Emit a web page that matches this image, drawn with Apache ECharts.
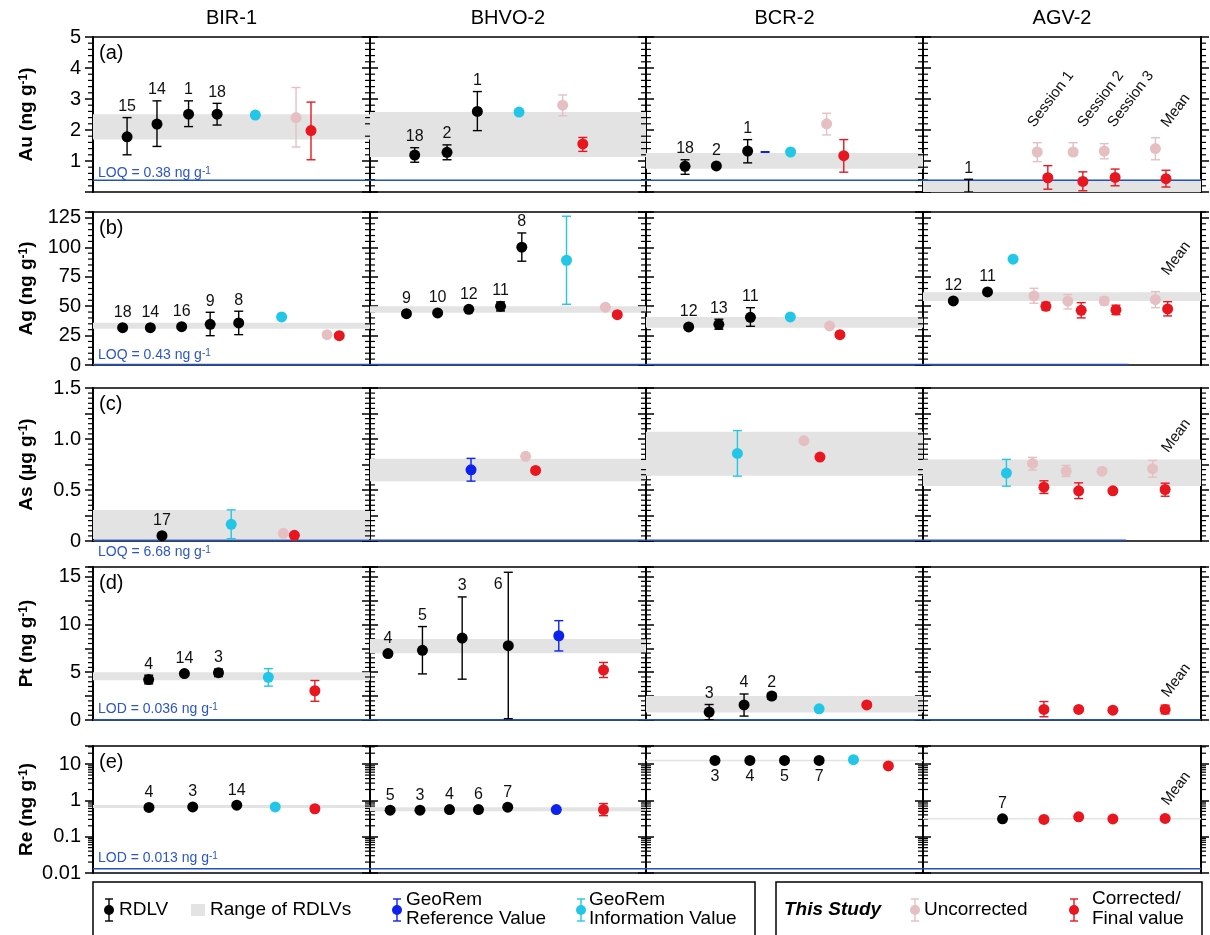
<!DOCTYPE html>
<html><head><meta charset="utf-8">
<script src="https://cdn.jsdelivr.net/npm/echarts@6.0.0/dist/echarts.min.js"></script>
<style>html,body{margin:0;padding:0;background:#fff}#c{width:1210px;height:935px}</style>
</head><body><div id="c"></div><script>
const columns = ['BIR-1', 'BHVO-2', 'BCR-2', 'AGV-2'];
const sessionNames = ['Session 1', 'Session 2', 'Session 3', 'Mean'];

// tick labels per row
const auTicks = [1, 2, 3, 4, 5];
const agTicks = [0, 25, 50, 75, 100, 125];
const asTicks = ['0', '0.5', '1.0', '1.5'];
const ptTicks = [0, 5, 10, 15];
const reTicks = [0.01, 0.1, 1, 10];

// RDLV: [column, x, value, low, high, n]; others: [column, x, value, low, high]; range: [column, low, high]
const auRDLV = [
  [0,12.3,1.78,1.20,2.40,'15'],[0,23.1,2.19,1.47,2.94,'14'],[0,34.5,2.51,2.11,2.94,'1'],[0,44.8,2.51,2.16,2.86,'18'],
  [1,16.2,1.19,0.96,1.43,'18'],[1,27.9,1.28,1.04,1.52,'2'],[1,38.9,2.60,1.98,3.24,'1'],
  [2,14.1,0.83,0.57,1.04,'18'],[2,25.4,0.84,null,null,'2'],[2,36.7,1.32,0.94,1.69,'1'],
  [3,16.4,null,0,0.41,'1']
];
const auRange = [[0,1.69,2.51],[1,1.13,2.58],[2,0.75,1.26],[3,0,0.40]];
const auGeoRef = [[2,43.0,1.29,null,null]];
const auGeoInfo = [[0,58.6,2.48,null,null],[1,54.0,2.58,null,null],[2,52.2,1.29,null,null]];
const auUncorrected = [[0,73.3,2.40,1.45,3.37],[1,69.8,2.80,2.46,3.13],[2,65.2,2.20,1.84,2.54],
  [3,41.1,1.29,0.98,1.59],[3,54.0,1.29,1.18,1.59],[3,65.2,1.32,1.07,1.56],[3,83.6,1.40,1.04,1.75]];
const auCorrected = [[0,78.7,1.98,1.04,2.90],[1,77.1,1.55,1.31,1.76],[2,71.4,1.17,0.64,1.69],
  [3,44.9,0.46,0.09,0.85],[3,57.5,0.34,0.04,0.65],[3,69.1,0.47,0.20,0.74],[3,87.4,0.43,0.16,0.70]];
const auLimit = 0.38;

const agRDLV = [
  [0,10.7,31.7,null,null,'18'],[0,20.7,31.7,null,null,'14'],[0,32.0,32.6,null,null,'16'],[0,42.3,34.6,24.9,44.8,'9'],[0,52.6,35.7,25.8,45.7,'8'],
  [1,13.2,43.6,null,null,'9'],[1,24.5,44.2,null,null,'10'],[1,35.8,47.3,null,null,'12'],[1,47.3,49.9,45.9,53.6,'11'],[1,55.0,100.1,88.2,112.2,'8'],
  [2,15.4,32.3,null,null,'12'],[2,26.3,34.6,30.4,38.9,'13'],[2,37.7,40.5,32.9,48.7,'11'],
  [3,10.9,54.4,null,null,'12'],[3,23.2,62.1,null,null,'11']
];
const agRange = [[0,30.9,36.0],[1,44.5,49.9],[2,31.7,40.8],[3,54.4,61.8]];
const agGeoRef = [];
const agGeoInfo = [[0,68.1,40.8,null,null],[1,71.2,89.0,51.6,126.4],[2,52.1,40.8,null,null],[3,32.4,89.9,null,null]];
const agUncorrected = [[0,84.5,25.8,24.6,27.0],[1,85.3,49.1,null,null],[2,66.3,33.2,null,null],
  [3,39.9,58.7,52.5,65.2],[3,52.1,54.2,47.6,59.8],[3,65.2,54.4,51.0,57.6],[3,83.6,55.5,48.7,62.3]];
const agCorrected = [[0,88.9,24.9,23.2,26.6],[1,89.6,42.8,41.2,44.4],[2,70.0,25.8,24.2,27.4],
  [3,44.2,49.9,46.8,53.3],[3,56.9,46.5,40.0,53.0],[3,69.4,46.8,42.8,50.8],[3,88.0,47.6,41.7,53.8]];
const agLimit = 0.43;

const asRDLV = [[0,24.9,0.052,null,null,'17']];
const asRange = [[0,0.02,0.305],[1,0.587,0.807],[2,0.639,1.072],[3,0.538,0.80]];
const asGeoRef = [[1,36.6,0.698,0.587,0.810]];
const asGeoInfo = [[0,49.9,0.164,0.023,0.305],[2,33.0,0.859,0.636,1.082],[3,30.0,0.666,0.538,0.80]];
const asUncorrected = [[0,68.7,0.075,null,null],[1,56.4,0.830,0.812,0.848],[2,57.0,0.984,null,null],
  [3,39.4,0.761,0.695,0.820],[3,51.5,0.685,0.633,0.741],[3,64.4,0.685,0.672,0.698],[3,82.6,0.708,0.626,0.790]];
const asCorrected = [[0,72.7,0.056,null,null],[1,60.0,0.692,0.672,0.712],[2,62.8,0.823,0.812,0.834],
  [3,43.5,0.528,0.466,0.590],[3,56.0,0.492,0.416,0.570],[3,68.3,0.492,0.480,0.504],[3,87.1,0.505,0.439,0.567]];
const asLimit = 0.00668;

const ptRDLV = [
  [0,20.1,4.23,3.78,4.68,'4'],[0,33.0,4.85,null,null,'14'],[0,45.3,4.95,4.54,5.33,'3'],
  [1,6.5,6.95,null,null,'4'],[1,19.0,7.29,4.82,9.77,'5'],[1,33.4,8.57,4.27,12.87,'3'],[1,50.1,7.77,0.14,15.45,'6'],
  [2,22.8,0.83,0.03,1.62,'3'],[2,35.4,1.58,0.41,2.72,'4'],[2,45.4,2.51,2.17,2.79,'2']
];
const ptRange = [[0,4.16,4.99],[1,6.98,8.46],[2,0.79,2.51]];
const ptGeoRef = [[1,68.4,8.81,7.22,10.39]];
const ptGeoInfo = [[0,63.3,4.47,3.54,5.37],[2,62.5,1.17,null,null]];
const ptUncorrected = [];
const ptCorrected = [[0,80.1,3.06,1.96,4.13],[1,84.6,5.23,4.44,6.02],[2,79.7,1.58,1.38,1.78],
  [3,43.5,1.10,0.34,1.93],[3,56.0,1.10,0.92,1.28],[3,68.3,1.03,0.90,1.16],[3,87.1,1.10,0.65,1.55]];
const ptLimit = 0.036;

const reRDLV = [
  [0,20.2,0.64,null,null,'4'],[0,36.0,0.66,null,null,'3'],[0,51.9,0.74,null,null,'14'],
  [1,7.3,0.54,null,null,'5'],[1,18.1,0.54,null,null,'3'],[1,28.8,0.56,null,null,'4'],[1,39.3,0.56,null,null,'6'],[1,49.9,0.65,null,null,'7'],
  [2,24.9,12.7,null,null,'3'],[2,37.5,12.7,null,null,'4'],[2,50.0,12.7,null,null,'5'],[2,62.5,12.7,null,null,'7'],
  [3,28.6,0.312,null,null,'7']
];
const reRange = [[0,0.62,0.75],[1,0.50,0.65],[2,12.5,12.9],[3,0.307,0.317]];
const reGeoRef = [[1,67.5,0.56,null,null]];
const reGeoInfo = [[0,65.8,0.66,null,null],[2,74.9,13.3,null,null]];
const reUncorrected = [];
const reCorrected = [[0,80.1,0.59,0.52,0.68],[1,84.6,0.56,0.38,0.82],[2,87.5,8.9,null,null],
  [3,43.5,0.30,null,null],[3,56.0,0.354,0.33,0.38],[3,68.3,0.31,0.29,0.33],[3,87.1,0.32,0.29,0.35]];
const reLimit = 0.013;

// ---------- layout & style ----------
const FONT = '"Liberation Sans", Arial, Helvetica, sans-serif';
const C = {rdlv:'#000000', band:'#e3e3e3', ref:'#0d22ee', info:'#22c7e8', unc:'#e6bfc3', cor:'#e8161f', limit:'#2350c2', limitText:'#2c55cc'};
const colLeft = [93, 370, 646, 923];
const colWidth = [277, 276, 277, 278];
const rowTop = [37, 212, 388, 567, 746];
const rowHeight = [155, 153, 153, 153, 127];

const rows = [
  {key:'Au', label:'Au (ng g', letter:'(a)', rdlv:auRDLV, range:auRange, ref:auGeoRef, info:auGeoInfo, unc:auUncorrected, cor:auCorrected,
   limit:auLimit, limitLabel:'LOQ = 0.38 ng g', limitLabelY:173, ticks:auTicks, axis:{type:'value', min:0, max:5, interval:1}, minorStep:0.2, limitEnd:[100,100,100,100]},
  {key:'Ag', label:'Ag (ng g', letter:'(b)', rdlv:agRDLV, range:agRange, ref:agGeoRef, info:agGeoInfo, unc:agUncorrected, cor:agCorrected,
   limit:agLimit, limitLabel:'LOQ = 0.43 ng g', limitLabelY:355, ticks:agTicks, axis:{type:'value', min:0, max:130, interval:25}, minorStep:5, limitEnd:[100,100,100,74]},
  {key:'As', label:'As (\u00b5g g', letter:'(c)', rdlv:asRDLV, range:asRange, ref:asGeoRef, info:asGeoInfo, unc:asUncorrected, cor:asCorrected,
   limit:asLimit, limitLabel:'LOQ = 6.68 ng g', limitLabelY:552, ticks:asTicks, axis:{type:'value', min:0, max:1.5, interval:0.25}, minorStep:0.05, limitEnd:[100,100,100,73]},
  {key:'Pt', label:'Pt (ng g', letter:'(d)', rdlv:ptRDLV, range:ptRange, ref:ptGeoRef, info:ptGeoInfo, unc:ptUncorrected, cor:ptCorrected,
   limit:ptLimit, limitLabel:'LOD = 0.036 ng g', limitLabelY:709, ticks:ptTicks, axis:{type:'value', min:0, max:16, interval:2.5}, minorStep:0.5, limitEnd:[100,100,100,100]},
  {key:'Re', label:'Re (ng g', letter:'(e)', rdlv:reRDLV, range:reRange, ref:reGeoRef, info:reGeoInfo, unc:reUncorrected, cor:reCorrected,
   limit:reLimit, limitLabel:'LOD = 0.013 ng g', limitLabelY:858, ticks:reTicks, axis:{type:'log', logBase:10, min:0.01, max:31.62}, minorStep:null, limitEnd:[100,100,100,100]}
];
// annotation anchors for AGV-2 session/mean labels (axis units)
const sessionAnchors = {Au:[[41.0,2.0],[59.0,2.0],[69.8,2.0],[89.0,2.0]]};
const meanAnchors = {Ag:[89.2,74], As:[89.2,0.84], Pt:[89.2,2.1], Re:[89.2,0.62]};

function fmtFor(row) {
  return function (v) {
    if (row.key === 'As') { const s = v === 0 ? '0' : v.toFixed(1); return (Math.abs(v*2 - Math.round(v*2)) < 1e-9 && row.ticks.includes(s)) ? s : ''; }
    if (row.key === 'Re') { const t = row.ticks.find(t => Math.abs(v - t) / t < 1e-6); return t === undefined ? '' : String(t); }
    const t = row.ticks.find(t => Math.abs(v - t) < 1e-9); return t === undefined ? '' : String(t);
  };
}
function minorValues(row) {
  const out = [];
  if (row.axis.type === 'log') {
    for (let k = -2; k <= 1; k++) for (let m = 2; m <= 9; m++) { const v = m * Math.pow(10, k); if (v <= row.axis.max) out.push(v); }
  } else {
    const n = Math.round((row.axis.max - row.axis.min) / row.minorStep);
    const per = Math.round(row.axis.interval / row.minorStep);
    for (let i = 1; i <= n; i++) if (i % per !== 0) out.push(row.axis.min + i * row.minorStep);
  }
  return out;
}

const grids = [], xAxes = [], yAxes = [], series = [];

function customSeries(g, items, safeY, render, z, clip) {
  if (!items.length) return;
  series.push({type:'custom', xAxisIndex:g, yAxisIndex:2*g, z:z, silent:true, clip:!!clip, animation:false,
    encode:{x:0, y:1}, data: items.map(() => [50, safeY]),
    renderItem: (params, api) => render(items[params.dataIndex], api, params)});
}
function lineEl(x1,y1,x2,y2,stroke,w){ return {type:'line', shape:{x1,y1,x2,y2}, style:{stroke, lineWidth:w}}; }
function errRender(color) {
  return (d, api) => {
    const t = api.coord([d[1], d[4]]), b = api.coord([d[1], d[3]]), w = 4.5;
    return {type:'group', children:[
      lineEl(t[0],t[1],b[0],b[1],color,1.4), lineEl(t[0]-w,t[1],t[0]+w,t[1],color,1.4), lineEl(b[0]-w,b[1],b[0]+w,b[1],color,1.4)]};
  };
}
function textEl(x, y, text, font, align, valign, rot, fill) {
  return {type:'text', x, y, rotation: rot || 0,
    style:{text, fill: fill || '#111', font, align, verticalAlign: valign, textAlign: align, textVerticalAlign: valign}};
}

rows.forEach((row, r) => {
  const safeY = row.axis.type === 'log' ? 1 : 0;
  columns.forEach((colName, c) => {
    const g = r * 4 + c;
    grids.push({left:colLeft[c], top:rowTop[r], width:colWidth[c], height:rowHeight[r], show:true, borderColor:'#000', borderWidth:1.5, backgroundColor:'transparent'});
    xAxes.push({type:'value', gridIndex:g, min:0, max:100, show:false});
    const base = Object.assign({gridIndex:g, splitLine:{show:false}, minorTick:{show:false},
      axisLine:{show:true, onZero:false, lineStyle:{color:'#000', width:2}},
      axisTick:{show:true, length:8, lineStyle:{color:'#000', width:1.5}}}, row.axis);
    yAxes.push(Object.assign({}, base, {position:'left',
      axisLabel:{show:c === 0, fontSize:20, color:'#000', fontFamily:FONT, margin:12, formatter:fmtFor(row)}}));
    yAxes.push(Object.assign({}, base, {position:'right', axisLabel:{show:false}}));

    // minor ticks
    customSeries(g, minorValues(row), safeY, (v, api, p) => {
      const cs = p.coordSys, y = api.coord([0, v])[1];
      return {type:'group', children:[lineEl(cs.x-5, y, cs.x, y, '#000', 1.2), lineEl(cs.x+cs.width, y, cs.x+cs.width+5, y, '#000', 1.2)]};
    }, 1, false);

    // range band
    customSeries(g, row.range.filter(d => d[0] === c), safeY, (d, api, p) => {
      const cs = p.coordSys;
      let y1 = api.coord([0, d[2]])[1], y2 = api.coord([0, d[1]])[1];
      y1 = Math.max(y1, cs.y); y2 = Math.min(y2, cs.y + cs.height);
      if (y2 - y1 < 1.5) { const m = (y1 + y2) / 2; y1 = m - 0.75; y2 = m + 0.75; }
      return {type:'rect', shape:{x:cs.x, y:y1, width:cs.width, height:y2 - y1}, style:{fill:C.band}};
    }, 1, true);

    // limit line
    customSeries(g, [[row.limit, row.limitEnd[c]]], safeY, (d, api) => {
      const a = api.coord([0, d[0]]), b = api.coord([d[1], d[0]]);
      return lineEl(a[0], a[1], b[0], b[1], C.limit, 1.5);
    }, 2, false);

    const groups = [
      {items:row.rdlv, color:C.rdlv}, {items:row.ref, color:C.ref}, {items:row.info, color:C.info},
      {items:row.unc, color:C.unc}, {items:row.cor, color:C.cor}];
    groups.forEach(gr => {
      const mine = gr.items.filter(d => d[0] === c);
      customSeries(g, mine.filter(d => d[3] != null && d[4] != null), safeY, errRender(gr.color), 3, true);
      const pts = mine.filter(d => d[2] != null);
      if (pts.length) {
        const isDash = gr.color === C.ref && row.key === 'Au';
        series.push({type:'scatter', xAxisIndex:g, yAxisIndex:2*g, z:4, silent:true, animation:false,
          symbol: isDash ? 'rect' : 'circle', symbolSize: isDash ? [9, 2] : 11,
          itemStyle:{color:gr.color, opacity:1}, data: pts.map(d => [d[1], d[2]])});
      }
    });

    // n labels
    const labs = row.rdlv.filter(d => d[0] === c);
    customSeries(g, labs, safeY, (d, api) => {
      const font = '16px ' + FONT;
      const hasErr = d[4] != null;
      if (row.key === 'Re' && c === 2) {
        const p = api.coord([d[1], d[2]]);
        return textEl(p[0], p[1] + 8, d[5], font, 'center', 'top');
      }
      if (row.key === 'Pt' && c === 1 && d[5] === '6') {
        const p = api.coord([d[1], d[4]]);
        return textEl(p[0] - 10, p[1] + 12, d[5], font, 'center', 'middle');
      }
      const p = api.coord([d[1], hasErr ? d[4] : d[2]]);
      return textEl(p[0], p[1] - (hasErr ? 3 : 7), d[5], font, 'center', 'bottom');
    }, 5, false);

    // session / mean annotations in AGV-2
    if (c === 3) {
      const anchors = sessionAnchors[row.key] ? sessionAnchors[row.key].map((a, i) => [a[0], a[1], sessionNames[i]])
        : [[meanAnchors[row.key][0], meanAnchors[row.key][1], sessionNames[3]]];
      customSeries(g, anchors, safeY, (d, api) => {
        const p = api.coord([d[0], d[1]]);
        return textEl(p[0], p[1], d[2], '15px ' + FONT, 'left', 'bottom', 53 * Math.PI / 180, '#111');
      }, 5, false);
    }
  });
});

// ---------- graphic texts & legend ----------
const graphics = [];
function gText(x, y, text, font, align, valign, extra) {
  const el = {type:'text', x, y, silent:true, style:Object.assign({text, font, fill:'#000', align, verticalAlign:valign, textAlign:align, textVerticalAlign:valign}, extra || {})};
  graphics.push(el); return el;
}
columns.forEach((t, c) => gText(colLeft[c] + colWidth[c] / 2, 18, t, '20px ' + FONT, 'center', 'middle'));
rows.forEach((row, r) => {
  const cy = rowTop[r] + rowHeight[r] / 2;
  const el = gText(27, cy, '{a|' + row.label + '}{s|-1}{a|)}', 'bold 19px ' + FONT, 'center', 'middle', {
    rich:{a:{font:'bold 19px ' + FONT, fill:'#000'}, s:{font:'bold 12px ' + FONT, fill:'#000', verticalAlign:'top'}}});
  el.rotation = Math.PI / 2;
  gText(colLeft[0] + 6, rowTop[r] + 16, row.letter, '20px ' + FONT, 'left', 'middle');
  gText(colLeft[0] + 5, row.limitLabelY, '{a|' + row.limitLabel + '}{s|-1}', '14px ' + FONT, 'left', 'middle', {
    rich:{a:{font:'14px ' + FONT, fill:C.limitText}, s:{font:'10px ' + FONT, fill:C.limitText, verticalAlign:'top'}}});
});

// legend
graphics.push({type:'rect', silent:true, shape:{x:93, y:882, width:662, height:70}, style:{fill:'none', stroke:'#000', lineWidth:1.5}});
graphics.push({type:'rect', silent:true, shape:{x:776, y:882, width:426, height:70}, style:{fill:'none', stroke:'#000', lineWidth:1.5}});
function legendSym(x, y, color) {
  const w = 4, t = y - 11, b = y + 11;
  graphics.push({type:'group', silent:true, children:[
    {type:'line', shape:{x1:x, y1:t, x2:x, y2:b}, style:{stroke:color, lineWidth:1.4}},
    {type:'line', shape:{x1:x-w, y1:t, x2:x+w, y2:t}, style:{stroke:color, lineWidth:1.4}},
    {type:'line', shape:{x1:x-w, y1:b, x2:x+w, y2:b}, style:{stroke:color, lineWidth:1.4}},
    {type:'circle', shape:{cx:x, cy:y, r:5}, style:{fill:color}}]});
}
const LF = '19px ' + FONT;
legendSym(109, 910, C.rdlv); gText(119, 910, 'RDLV', LF, 'left', 'middle');
graphics.push({type:'rect', silent:true, shape:{x:191, y:904, width:14, height:12}, style:{fill:C.band}});
gText(210, 910, 'Range of RDLVs', LF, 'left', 'middle');
legendSym(397, 910, C.ref); gText(406, 900, 'GeoRem', LF, 'left', 'middle'); gText(406, 919, 'Reference Value', LF, 'left', 'middle');
legendSym(581, 910, C.info); gText(589, 900, 'GeoRem', LF, 'left', 'middle'); gText(589, 919, 'Information Value', LF, 'left', 'middle');
gText(784, 910, 'This Study', 'italic bold 19px ' + FONT, 'left', 'middle');
legendSym(915, 910, C.unc); gText(924, 910, 'Uncorrected', LF, 'left', 'middle');
legendSym(1074, 910, C.cor); gText(1092, 899, 'Corrected/', LF, 'left', 'middle'); gText(1092, 919, 'Final value', LF, 'left', 'middle');

const chart = echarts.init(document.getElementById('c'), null, {renderer:'canvas'});
chart.setOption({animation:false, backgroundColor:'#fff', grid:grids, xAxis:xAxes, yAxis:yAxes, series, graphic:{elements:graphics}});
</script></body></html>
